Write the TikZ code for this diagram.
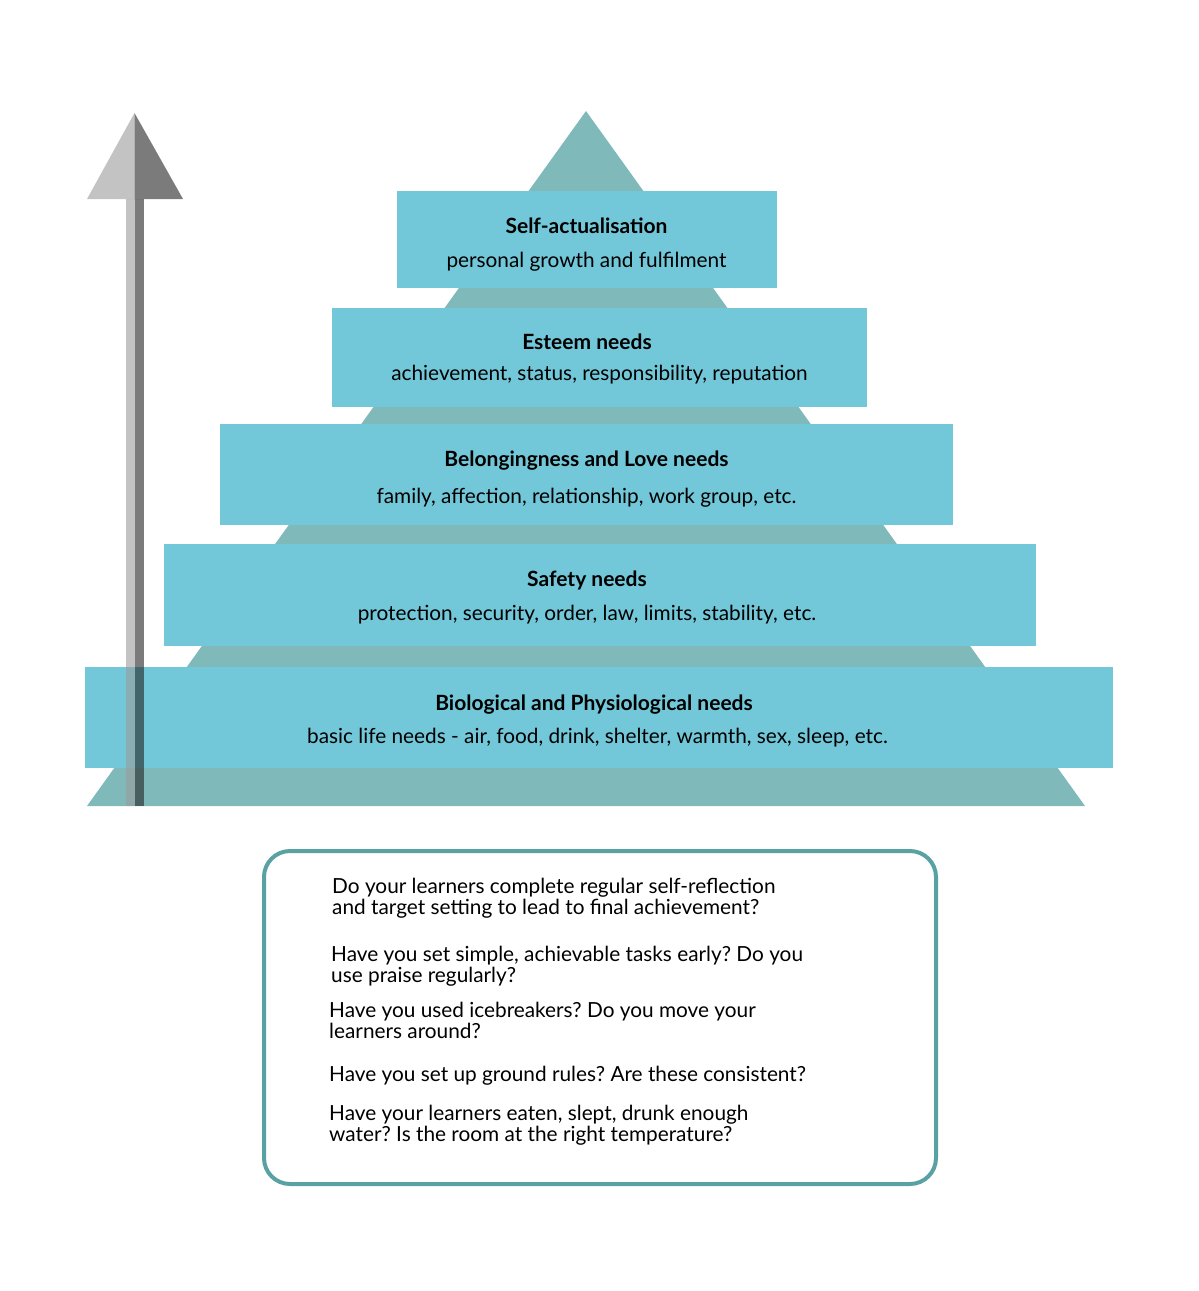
\documentclass[tikz,border=0pt]{standalone}
\usepackage{fontspec}
\setmainfont{Lato}
\definecolor{pyr}{RGB}{128,185,186}
\definecolor{lvl}{RGB}{114,199,216}
\definecolor{frame}{RGB}{88,162,164}
\definecolor{arlight}{RGB}{155,155,155}
\definecolor{ardark}{RGB}{35,35,35}
\tikzset{
  level/.style={fill=lvl, draw=none},
  title/.style={font=\fontsize{21}{21}\selectfont\bfseries\frenchspacing, inner sep=0pt, anchor=center},
  sub/.style={font=\fontsize{20.8}{21}\selectfont\frenchspacing, inner sep=0pt, anchor=center},
  q/.style={font=\fontsize{20.8}{21}\selectfont\frenchspacing, inner sep=0pt, anchor=west, align=left},
  arl/.style={fill=arlight, fill opacity=0.6, draw=none},
  ard/.style={fill=ardark, fill opacity=0.6, draw=none}
}
\begin{document}
\begin{tikzpicture}[x=1pt,y=-1pt]
\useasboundingbox (0,0) rectangle (1199,1291);
% pyramid
\fill[pyr] (87,806) -- (586,111) -- (1085,806) -- cycle;
% levels
\node[level, minimum width=380pt, minimum height=97pt, inner sep=0pt] (l5) at (587,239.5) {};
\node[level, minimum width=535pt, minimum height=99pt, inner sep=0pt] (l4) at (599.5,357.5) {};
\node[level, minimum width=733pt, minimum height=101pt, inner sep=0pt] (l3) at (586.5,474.5) {};
\node[level, minimum width=872pt, minimum height=102pt, inner sep=0pt] (l2) at (600,595) {};
\node[level, minimum width=1028pt, minimum height=101pt, inner sep=0pt] (l1) at (599,717.5) {};
% texts
\node[title] (t5) at (586.5,225.5) {Self-actualisation};
\node[sub] (s5) at (586.5,261.5) {personal growth and fulfilment};
\node[title] (t4) at (587,341.5) {Esteem needs};
\node[sub] (s4) at (599.5,374.5) {achievement, status, responsibility, reputation};
\node[title] (t3) at (586.5,460.5) {Belongingness and Love needs};
\node[sub] (s3) at (586.5,497.5) {family, affection, relationship, work group, etc.};
\node[title] (t2) at (587,580.5) {Safety needs};
\node[sub] (s2) at (587,614.5) {protection, security, order, law, limits, stability, etc.};
\node[title] (t1) at (594,704.5) {Biological and Physiological needs};
\node[sub] (s1) at (597.5,737.5) {basic life needs - air, food, drink, shelter, warmth, sex, sleep, etc.};
% arrow
\fill[arl] (87,199) -- (134.5,113) -- (134.5,199) -- cycle;
\fill[ard] (134.5,113) -- (183,199) -- (134.5,199) -- cycle;
\fill[arl] (126,199) rectangle (135,806);
\fill[ard] (135,199) rectangle (144,806);
% question box
\node[draw=frame, line width=4pt, rounded corners=26pt, minimum width=672pt, minimum height=333pt, inner sep=0pt] (qb) at (600,1017.5) {};
\node[q] (q1) at (332,898) {Do your learners complete regular self-reflection\\and target setting to lead to final achievement?};
\node[q] (q2) at (331,966) {Have you set simple, achievable tasks early? Do you\\use praise regularly?};
\node[q] (q3) at (329,1020) {Have you used icebreakers? Do you move your\\learners around?};
\node[q] (q4) at (329,1075.5) {Have you set up ground rules? Are these consistent?};
\node[q] (q5) at (329,1125) {Have your learners eaten, slept, drunk enough\\water? Is the room at the right temperature?};
\end{tikzpicture}
\end{document}
